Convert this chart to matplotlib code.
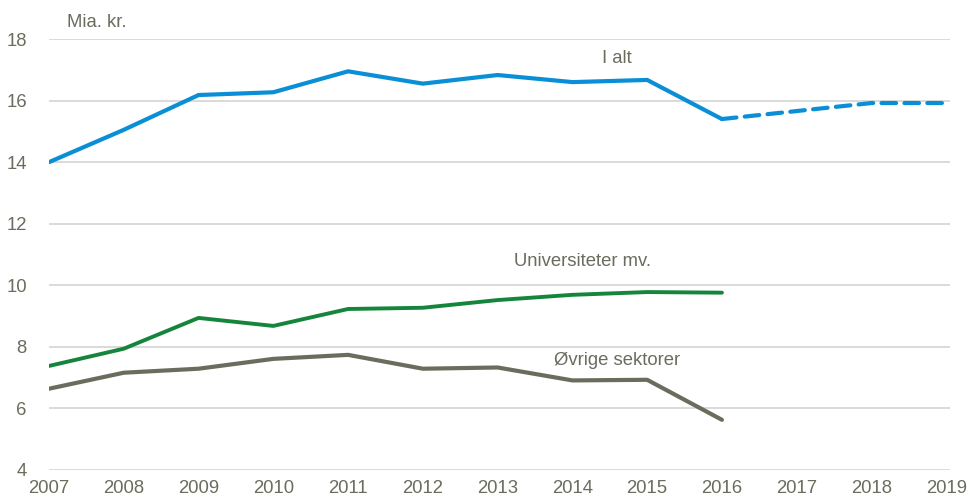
import matplotlib.pyplot as plt
from matplotlib import font_manager

# Data (Mia. kr.)
years = [2007, 2008, 2009, 2010, 2011, 2012, 2013, 2014, 2015, 2016]
i_alt = [14.0, 15.05, 16.18, 16.27, 16.95, 16.55, 16.83, 16.6, 16.67, 15.4]
prog_years = [2016, 2017, 2018, 2019]
i_alt_prog = [15.4, 15.66, 15.92, 15.92]
universiteter = [7.38, 7.94, 8.94, 8.68, 9.23, 9.27, 9.52, 9.69, 9.78, 9.76]
ovrige = [6.64, 7.16, 7.29, 7.61, 7.74, 7.29, 7.33, 6.91, 6.93, 5.63]

xticks = list(range(2007, 2020))
yticks = [4, 6, 8, 10, 12, 14, 16, 18]

names = {f.name for f in font_manager.fontManager.ttflist}
family = 'Liberation Sans Narrow' if 'Liberation Sans Narrow' in names else 'Liberation Sans'
fs = 15 if family == 'Liberation Sans Narrow' else 13.3
plt.rcParams['font.family'] = [family, 'DejaVu Sans']
plt.rcParams['font.size'] = fs

txt = '#6b6b5e'
blue = '#0a8fd6'
green = '#15853c'
grey = '#6c6c5e'

fig = plt.figure(figsize=(9.73, 5.04), dpi=100)
ax = fig.add_axes([49 / 973, 1 - 470 / 504, 901 / 973, 431 / 504])

ax.plot(years, i_alt, color=blue, lw=3, solid_capstyle='round', solid_joinstyle='miter')
ax.plot(prog_years, i_alt_prog, color=blue, lw=3, dashes=(3.5, 2), dash_capstyle='round')
ax.plot(years, universiteter, color=green, lw=2.8, solid_capstyle='round')
ax.plot(years, ovrige, color=grey, lw=3, solid_capstyle='round')

ax.set_xlim(2007, 2019.05)
ax.set_ylim(4, 18)
ax.set_xticks(xticks)
ax.set_yticks(yticks)
ax.grid(axis='y', color='#d4d4d4', lw=1.2)
ax.set_axisbelow(True)
for s in ax.spines.values():
    s.set_visible(False)
ax.tick_params(length=0, colors=txt, labelsize=fs)
ax.tick_params(axis='x', pad=7)
ax.tick_params(axis='y', pad=16)

ax.text(2007.24, 18.55, 'Mia. kr.', color=txt, fontsize=fs, va='center', ha='left')
ax.text(2014.6, 17.38, 'I alt', color=txt, fontsize=fs, va='center', ha='center')
ax.text(2014.13, 10.76, 'Universiteter mv.', color=txt, fontsize=fs, va='center', ha='center')
ax.text(2014.6, 7.55, 'Øvrige sektorer', color=txt, fontsize=fs, va='center', ha='center')

fig.savefig('out.png', dpi=100)
